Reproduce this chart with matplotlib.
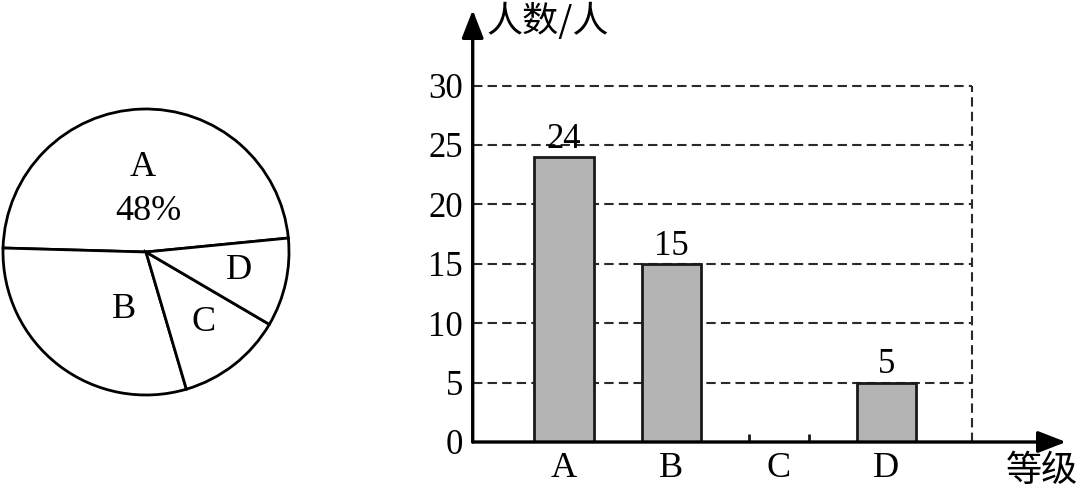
import matplotlib
matplotlib.use("Agg")
import matplotlib.pyplot as plt

# ---- data ----
categories = ["A", "B", "C", "D"]
counts = [24, 15, 0, 5]
pie_counts = [24, 15, 6, 5]          # C = 50 - 24 - 15 - 5
y_ticks = [0, 5, 10, 15, 20, 25, 30]
y_label = "人数/人"
x_label = "等级"

serif = "Liberation Serif"
cjk = ["Noto Sans CJK SC", "DejaVu Sans"]

W, H = 1080, 493
fig = plt.figure(figsize=(W / 100, H / 100), dpi=100)

# ---------------- pie ----------------
cx, cy, r = 146, 252, 143
m = 1.04
axp = fig.add_axes([(cx - r * m) / W, (H - cy - r * m) / H, 2 * r * m / W, 2 * r * m / H])
wedges, _ = axp.pie(pie_counts, startangle=5.6, counterclock=True,
                    colors=["white"] * 4,
                    wedgeprops=dict(edgecolor="black", linewidth=2.0))
axp.set_xlim(-m, m)
axp.set_ylim(-m, m)
axp.set_aspect("equal")
axp.axis("off")

total = sum(pie_counts)
pct_A = f"{pie_counts[0] / total * 100:.0f}%"
fs_pie = 26
axp.text(-0.02, 0.59, "A", ha="center", va="center", fontsize=fs_pie, family=serif)
axp.text(0.015, 0.28, pct_A, ha="center", va="center", fontsize=fs_pie, family=serif)
axp.text(-0.155, -0.405, "B", ha="center", va="center", fontsize=fs_pie, family=serif)
axp.text(0.40, -0.49, "C", ha="center", va="center", fontsize=fs_pie, family=serif)
axp.text(0.65, -0.126, "D", ha="center", va="center", fontsize=fs_pie, family=serif)

# ---------------- bar chart ----------------
left_px, right_px, bot_px, top_px = 472.7, 1066, 442, 10
ax = fig.add_axes([left_px / W, (H - bot_px) / H, (right_px - left_px) / W, (bot_px - top_px) / H])
x0, x1 = -0.849, 4.67
ax.set_xlim(x0, x1)
ax.set_ylim(0, 36.36)
for s in ax.spines.values():
    s.set_visible(False)

xs = list(range(len(categories)))
bw = 0.55
grid_right = 3.80
dash = (0, (4.5, 2.5))
for yv in y_ticks[1:]:
    ax.plot([x0, grid_right], [yv, yv], ls=dash, lw=1.5, color="#2a2a2a", zorder=1)
ax.plot([grid_right, grid_right], [0, y_ticks[-1]], ls=dash, lw=1.5, color="#2a2a2a", zorder=1)

ax.bar(xs, counts, width=bw, color="#b4b4b4", edgecolor="#1a1a1a", linewidth=2.0, zorder=3)
for xi, v in zip(xs, counts):
    if v > 0:
        ax.text(xi, v + 0.1, str(v), ha="center", va="bottom", fontsize=25, family=serif)
    else:
        ax.vlines([xi - bw / 2, xi + bw / 2], 0, 0.7, colors="#1a1a1a", lw=2.0, zorder=3)

ax.set_yticks(y_ticks)
ax.set_yticklabels([str(t) for t in y_ticks], fontsize=25, family=serif)
ax.set_xticks(xs)
ax.set_xticklabels(categories, fontsize=26, family=serif)
ax.tick_params(axis="y", length=0, pad=7)
ax.tick_params(axis="x", length=0, pad=7.5)

arrow = dict(arrowstyle="-|>,head_length=0.9,head_width=0.35", lw=2.4, color="black",
             mutation_scale=19, shrinkA=0, shrinkB=0)
ax.annotate("", xy=(1, 0), xytext=(0, 0), xycoords="axes fraction", textcoords="axes fraction",
            arrowprops=arrow, zorder=5, annotation_clip=False)
ax.annotate("", xy=(0, 1), xytext=(0, 0), xycoords="axes fraction", textcoords="axes fraction",
            arrowprops=arrow, zorder=5, annotation_clip=False)

fig.text(486 / W, 1 - 21 / H, y_label, ha="left", va="center", fontsize=26,
         family=cjk, fontweight="light")
fig.text(1006 / W, 1 - 471 / H, x_label, ha="left", va="center", fontsize=26,
         family=cjk, fontweight="light")

fig.savefig("out.png", dpi=100)
